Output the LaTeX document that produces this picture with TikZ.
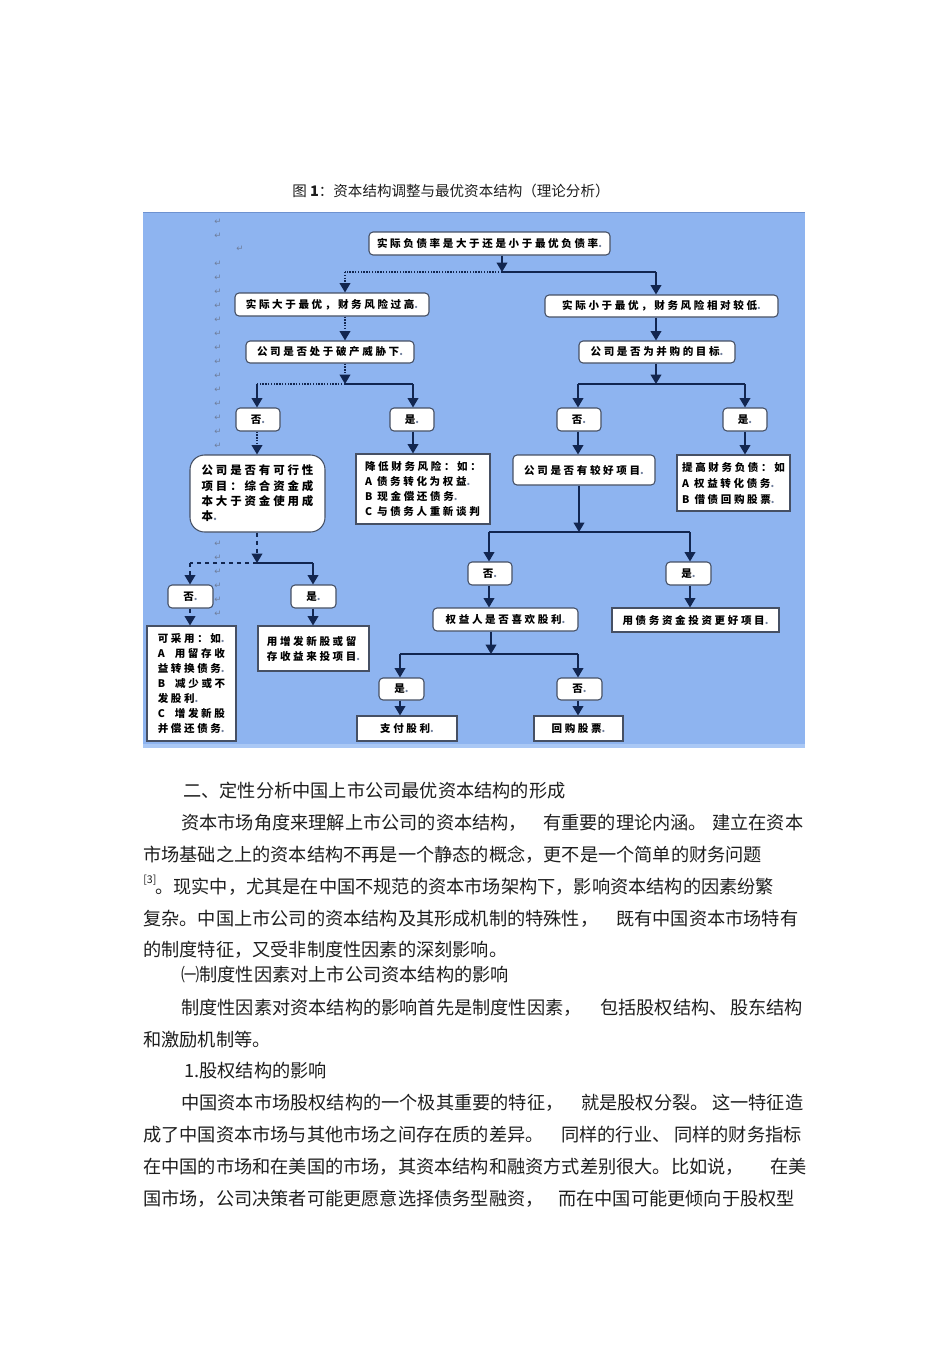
\documentclass[tikz,border=0pt]{standalone}
\usepackage{fontspec}
\setmainfont{Noto Sans CJK SC}
\newfontfamily\djv{DejaVu Sans}
\newfontfamily\boxfont[LetterSpace=25]{Noto Sans CJK SC}
\usetikzlibrary{arrows.meta}
\definecolor{bgblue}{RGB}{142,180,240}
\definecolor{bgedge}{RGB}{110,146,208}
\definecolor{bglow}{RGB}{170,200,245}
\definecolor{linec}{RGB}{18,38,80}
\definecolor{boxc}{RGB}{70,80,100}
\definecolor{markc}{RGB}{110,125,155}
\definecolor{textc}{RGB}{30,30,30}
\newcommand\pmk{\textcolor{markc}{.}}
\tikzset{
  rbox/.style={draw=boxc, fill=white, rounded corners=3pt, line width=0.8pt, inner sep=0pt,
    font=\boxfont\bfseries\fontsize{7.9pt}{11.3pt}\selectfont, text=black},
  sbox/.style={rbox, sharp corners, align=left},
  sz/.style 2 args={minimum width=#1*0.75pt, minimum height=#2*0.75pt},
  conn/.style={draw=linec, line width=1.1pt},
  arr/.style={conn, -{Triangle[width=8pt,length=7pt]}},
  dotl/.style={densely dotted},
  dashl/.style={dashed},
  body/.style={anchor=west, inner sep=0pt, text height=10.5pt, text depth=3pt, text=textc,
    font=\fontsize{13.65pt}{16pt}\selectfont},
  pmark/.style={inner sep=0pt, text=markc, font=\djv\fontsize{6.5pt}{6.5pt}\selectfont}
}
\begin{document}
\begin{tikzpicture}[x=0.75pt,y=-0.75pt]
\useasboundingbox (0,0) rectangle (950,1345);
\fill[white] (0,0) rectangle (950,1345);
% caption
\node[anchor=west, inner sep=0pt, text=textc, font=\fontsize{10.9pt}{12pt}\selectfont] (cap) at (292,191) {图 \textbf{1}：资本结构调整与最优资本结构（理论分析）};
% background
\fill[bgblue] (143,212) rectangle (805,748);
\fill[bglow] (143,744) rectangle (805,748);
\draw[bgedge, line width=0.8pt] (143,212.5) -- (805,212.5);
% paragraph marks
\foreach \yy [count=\i] in {222,236,264,278,...,446,544,558,572,586,600,614} \node[pmark] (pm\i) at (218,\yy) {↵};
\node[pmark] (pmx) at (240,249) {↵};
% nodes
\node[rbox, sz={241}{23}] (b1) at (489.5,243.5) {实际负债率是大于还是小于最优负债率\pmk};
\node[rbox, sz={194}{23}] (b2) at (332,304.5) {实际大于最优，财务风险过高\pmk};
\node[rbox, sz={233}{22}] (b3) at (661.5,306) {实际小于最优，财务风险相对较低\pmk};
\node[rbox, sz={168}{22}] (b4) at (330,352) {公司是否处于破产威胁下\pmk};
\node[rbox, sz={156}{22}] (b5) at (657,352) {公司是否为并购的目标\pmk};
\node[rbox, sz={44}{23}] (n1) at (258,419.5) {否\pmk};
\node[rbox, sz={44}{23}] (n2) at (412,419.5) {是\pmk};
\node[rbox, sz={44}{23}] (n3) at (579,419.5) {否\pmk};
\node[rbox, sz={44}{23}] (n4) at (745,419.5) {是\pmk};
\node[rbox, sz={135}{77}, rounded corners=11pt, align=left, font=\boxfont\bfseries\fontsize{8.6pt}{11.5pt}\selectfont] (b6) at (257.5,493.5) {公司是否有可行性\\项目：综合资金成\\本大于资金使用成\\本\pmk};
\node[sbox, sz={134}{70}] (b7) at (423,489) {降低财务风险：如：\\A 债务转化为权益\pmk\\B 现金偿还债务\pmk\\C 与债务人重新谈判};
\node[rbox, sz={142}{30}] (b8) at (584,470) {公司是否有较好项目\pmk};
\node[sbox, sz={113}{56}, font=\boxfont\bfseries\fontsize{7.9pt}{12pt}\selectfont] (b9) at (733.5,483) {提高财务负债：如\\A 权益转化债务\pmk\\B 借债回购股票\pmk};
\node[rbox, sz={44}{23}] (n5) at (490,573.5) {否\pmk};
\node[rbox, sz={45}{23}] (n6) at (688.5,573.5) {是\pmk};
\node[rbox, sz={145}{23}] (b10) at (505.5,619.5) {权益人是否喜欢股利\pmk};
\node[sbox, sz={167}{24}] (b11) at (695.5,620) {用债务资金投资更好项目\pmk};
\node[rbox, sz={45}{22}] (n7) at (401.5,689) {是\pmk};
\node[rbox, sz={45}{22}] (n8) at (579.5,689) {否\pmk};
\node[sbox, sz={100}{25}] (b12) at (407,728.5) {支付股利\pmk};
\node[sbox, sz={89}{25}] (b13) at (578.5,728.5) {回购股票\pmk};
\node[rbox, sz={45}{23}] (n9) at (190.5,596.5) {否\pmk};
\node[rbox, sz={45}{23}] (n10) at (313.5,596.5) {是\pmk};
\node[sbox, sz={89}{115}] (b14) at (191.5,683.5) {可采用：如\pmk\\A\ \ 用留存收\\益转换债务\pmk\\B\ \ 减少或不\\发股利\pmk\\C\ \ 增发新股\\并偿还债务\pmk};
\node[sbox, sz={111}{45}] (b15) at (313.5,648.5) {用增发新股或留\\存收益来投项目\pmk};
% junctions
\coordinate (j1) at (502,272);
\coordinate (jl1) at (345,272);
\coordinate (jr1) at (656,272);
\coordinate (j2) at (345,384);
\coordinate (jl2) at (257,384);
\coordinate (jr2) at (413,384);
\coordinate (j3) at (656,384);
\coordinate (jl3) at (578,384);
\coordinate (jr3) at (745,384);
\coordinate (j4) at (579,532);
\coordinate (jl4) at (489,532);
\coordinate (jr4) at (690,532);
\coordinate (j5) at (491,654);
\coordinate (jl5) at (400,654);
\coordinate (jr5) at (578,654);
\coordinate (j6) at (257,563);
\coordinate (jl6) at (190,563);
\coordinate (jr6) at (313,563);
% connectors top
\draw[arr] (b1.south -| j1) -- (j1);
\draw[conn, dotl] (j1) -- (jl1);
\draw[conn] (j1) -- (jr1);
\draw[arr, dotl] (jl1) -- (jl1 |- b2.north);
\draw[arr] (jr1) -- (jr1 |- b3.north);
\draw[arr, dotl] (b2.south -| jl1) -- (b4.north -| jl1);
\draw[arr] (b3.south -| jr1) -- (b5.north -| jr1);
% left branch
\draw[arr, dotl] (b4.south -| j2) -- (j2);
\draw[conn, dotl] (j2) -- (jl2);
\draw[conn] (j2) -- (jr2);
\draw[arr] (jl2) -- (jl2 |- n1.north);
\draw[arr] (jr2) -- (jr2 |- n2.north);
\draw[arr, dotl] (n1.south -| jl2) -- (b6.north -| jl2);
\draw[arr] (n2.south -| jr2) -- (b7.north -| jr2);
\draw[arr, dashl] (b6.south -| j6) -- (j6);
\draw[conn, dashl] (j6) -- (jl6);
\draw[conn] (j6) -- (jr6);
\draw[arr, dashl] (jl6) -- (jl6 |- n9.north);
\draw[arr] (jr6) -- (jr6 |- n10.north);
\draw[arr, dashl] (n9.south -| jl6) -- (b14.north -| jl6);
\draw[arr] (n10.south -| jr6) -- (b15.north -| jr6);
% right branch
\draw[arr] (b5.south -| j3) -- (j3);
\draw[conn] (jl3) -- (jr3);
\draw[arr] (jl3) -- (jl3 |- n3.north);
\draw[arr] (jr3) -- (jr3 |- n4.north);
\draw[arr] (n3.south -| jl3) -- (b8.north -| jl3);
\draw[arr] (n4.south -| jr3) -- (b9.north -| jr3);
\draw[arr] (b8.south -| j4) -- (j4);
\draw[conn] (jl4) -- (jr4);
\draw[arr] (jl4) -- (jl4 |- n5.north);
\draw[arr] (jr4) -- (jr4 |- n6.north);
\draw[arr] (n5.south -| jl4) -- (b10.north -| jl4);
\draw[arr] (n6.south -| jr4) -- (b11.north -| jr4);
\draw[arr] (b10.south -| j5) -- (j5);
\draw[conn] (jl5) -- (jr5);
\draw[arr] (jl5) -- (jl5 |- n7.north);
\draw[arr] (jr5) -- (jr5 |- n8.north);
\draw[arr] (n7.south -| jl5) -- (b12.north -| jl5);
\draw[arr] (n8.south -| jr5) -- (b13.north -| jr5);
% body text
\node[body] (t1) at (183,792) {二、定性分析中国上市公司最优资本结构的形成};
\node[body] (t2a) at (181,824) {资本市场角度来理解上市公司的资本结构，};
\node[body] (t2b) at (543,824) {有重要的理论内涵。};
\node[body] (t2c) at (712,824) {建立在资本};
\node[body] (t3) at (143,856) {市场基础之上的资本结构不再是一个静态的概念，更不是一个简单的财务问题};
\node[anchor=west, inner sep=0pt, text=textc, font=\fontsize{8pt}{9pt}\selectfont] (t4s) at (143,880) {[3]};
\node[body] (t4) at (155,888) {。现实中，尤其是在中国不规范的资本市场架构下，影响资本结构的因素纷繁};
\node[body] (t5a) at (143,920) {复杂。中国上市公司的资本结构及其形成机制的特殊性，};
\node[body] (t5b) at (616,920) {既有中国资本市场特有};
\node[body] (t6) at (143,951) {的制度特征，又受非制度性因素的深刻影响。};
\node[body] (t7) at (181,976) {㈠制度性因素对上市公司资本结构的影响};
\node[body] (t8a) at (181,1009) {制度性因素对资本结构的影响首先是制度性因素，};
\node[body] (t8b) at (600,1009) {包括股权结构、};
\node[body] (t8c) at (730,1009) {股东结构};
\node[body] (t9) at (143,1041) {和激励机制等。};
\node[body] (t10) at (184,1072) {1.股权结构的影响};
\node[body] (t11a) at (181,1104) {中国资本市场股权结构的一个极其重要的特征，};
\node[body] (t11b) at (581,1104) {就是股权分裂。};
\node[body] (t11c) at (712,1104) {这一特征造};
\node[body] (t12a) at (143,1136) {成了中国资本市场与其他市场之间存在质的差异。};
\node[body] (t12b) at (561,1136) {同样的行业、};
\node[body] (t12c) at (674,1136) {同样的财务指标};
\node[body] (t13a) at (143,1168) {在中国的市场和在美国的市场，其资本结构和融资方式差别很大。比如说，};
\node[body] (t13b) at (770,1168) {在美};
\node[body] (t14a) at (143,1200) {国市场，公司决策者可能更愿意选择债务型融资，};
\node[body] (t14b) at (558,1200) {而在中国可能更倾向于股权型};
\end{tikzpicture}
\end{document}
